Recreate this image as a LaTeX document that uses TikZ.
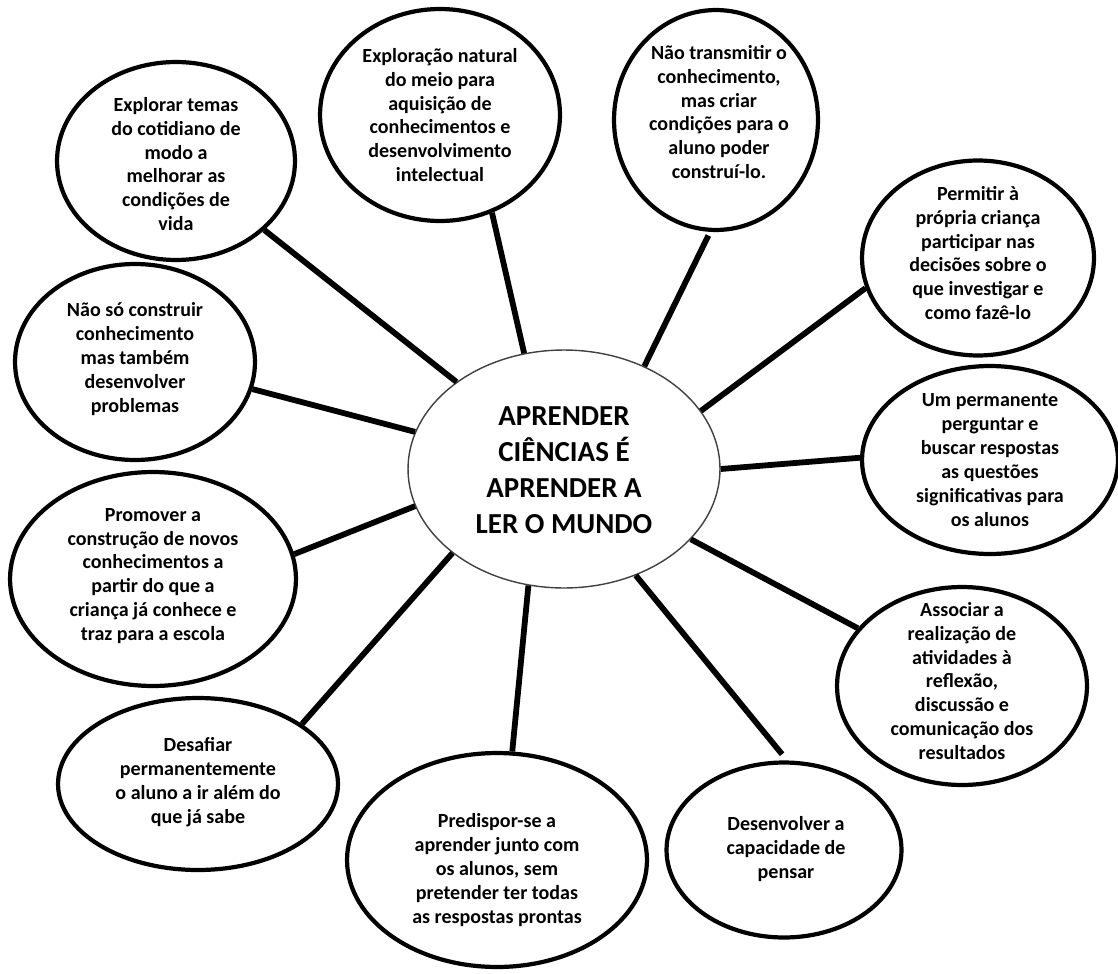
\documentclass[tikz,border=0pt]{standalone}
\usepackage{fontspec}
\setmainfont{Carlito}
\usetikzlibrary{shapes.geometric}

\begin{document}
\begin{tikzpicture}[
        x=0.02cm, y=-0.02cm,
        bubble/.style={ellipse, draw=black, line width=2.4pt, fill=white, inner sep=0pt},
        hub/.style={ellipse, draw=black!75, line width=0.8pt, fill=white, inner sep=0pt,
                    minimum width=6.24cm, minimum height=4.76cm},
        idea/.style={align=center, inner sep=0pt,
                     font=\fontsize{11.4}{13.6}\selectfont\bfseries},
        title/.style={align=center, inner sep=0pt,
                      font=\fontsize{16.5}{20.4}\selectfont\bfseries},
        spoke/.style={line width=3.3pt, black}
    ]
        \useasboundingbox (0,0) rectangle (1118,973);

        \node[hub] (aprender) at (564,469) {};
        \node[title] (aprender-t) at (564,470)
            {APRENDER\\CIÊNCIAS É\\APRENDER A\\LER O MUNDO};

        \node[bubble, minimum width=4.76cm, minimum height=3.96cm] (cotidiano) at (176,161) {};
        \node[idea] (cotidiano-t) at (176,164)
            {Explorar temas\\do cotidiano de\\modo a\\melhorar as\\condições de\\vida};

        \node[bubble, minimum width=4.8cm, minimum height=4.24cm] (meio) at (440,115) {};
        \node[idea] (meio-t) at (440,115)
            {Exploração natural\\do meio para\\aquisição de\\conhecimentos e\\desenvolvimento\\intelectual};

        \node[bubble, minimum width=4.08cm, minimum height=4.4cm] (transmitir) at (716,120) {};
        \node[idea] (transmitir-t) at (719,112)
            {Não transmitir o\\conhecimento,\\mas criar\\condições para o\\aluno poder\\construí-lo.};

        \node[bubble, minimum width=4.64cm, minimum height=3.9cm] (decisoes) at (978,258) {};
        \node[idea] (decisoes-t) at (978,253)
            {Permitir à\\própria criança\\participar nas\\decisões sobre o\\que investigar e\\como fazê-lo};

        \node[bubble, minimum width=5.12cm, minimum height=3.76cm] (perguntar) at (990,460) {};
        \node[idea] (perguntar-t) at (990,460)
            {Um permanente\\perguntar e\\buscar respostas\\as questões\\significativas para\\os alunos};

        \node[bubble, minimum width=5.0cm, minimum height=3.96cm] (associar) at (962,686) {};
        \node[idea] (associar-t) at (962,681)
            {Associar a\\realização de\\atividades à\\reflexão,\\discussão e\\comunicação dos\\resultados};

        \node[bubble, minimum width=4.7cm, minimum height=3.5cm] (pensar) at (784,850) {};
        \node[idea] (pensar-t) at (786,849)
            {Desenvolver a\\capacidade de\\pensar};

        \node[bubble, minimum width=6.0cm, minimum height=4.28cm] (predispor) at (497,860) {};
        \node[idea] (predispor-t) at (497,870)
            {Predispor-se a\\aprender junto com\\os alunos, sem\\pretender ter todas\\as respostas prontas};

        \node[bubble, minimum width=5.6cm, minimum height=3.44cm] (desafiar) at (198,784) {};
        \node[idea] (desafiar-t) at (198,782)
            {Desafiar\\permanentemente\\o aluno a ir além do\\que já sabe};

        \node[bubble, minimum width=5.72cm, minimum height=4.28cm] (promover) at (153,579) {};
        \node[idea] (promover-t) at (153,576)
            {Promover a\\construção de novos\\conhecimentos a\\partir do que a\\criança já conhece e\\traz para a escola};

        \node[bubble, minimum width=4.8cm, minimum height=3.92cm] (construir) at (135,362) {};
        \node[idea] (construir-t) at (135,359)
            {Não só construir\\conhecimento\\mas também\\desenvolver\\problemas};

        \draw[spoke] (aprender.141.9) -- (cotidiano.-38.6);
        \draw[spoke] (aprender.109.3) -- (meio.-62.8);
        \draw[spoke, shorten >=0.8mm] (aprender.52.7) -- (transmitir.-93);
        \draw[spoke] (aprender.23) -- (decisoes.195.6);
        \draw[spoke] (aprender.0.7) -- (perguntar.179.6);
        \draw[spoke] (aprender.-29.7) -- (associar.151.7);
        \draw[spoke, shorten >=1.6mm] (aprender.-56.5) -- (pensar.88);
        \draw[spoke] (aprender.253.2) -- (predispor.82.9);
        \draw[spoke] (aprender.217.1) -- (desafiar.30.8);
        \draw[spoke] (aprender.194) -- (promover.10.7);
        \draw[spoke] (aprender.166) -- (construir.-13.3);
    \end{tikzpicture}
\end{document}
